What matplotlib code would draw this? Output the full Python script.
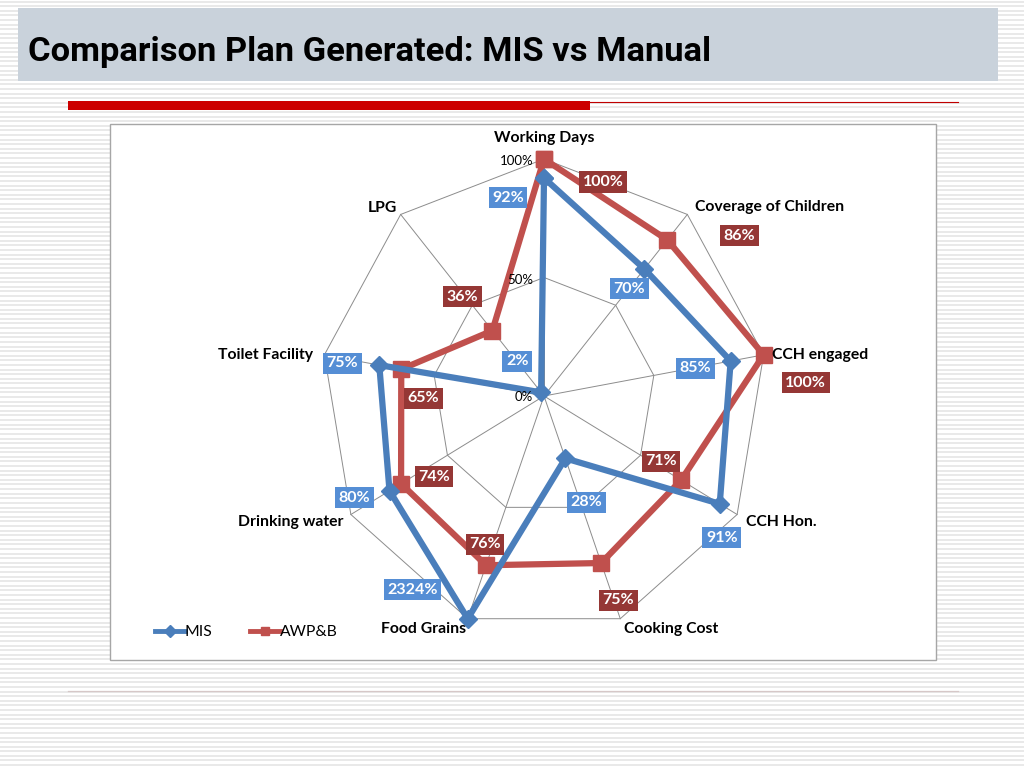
import numpy as np
import matplotlib.pyplot as plt
from matplotlib.patches import Rectangle
from matplotlib.lines import Line2D
from matplotlib.collections import LineCollection

categories = ['Working Days', 'Coverage of Children', 'CCH engaged', 'CCH Hon.',
              'Cooking Cost', 'Food Grains', 'Drinking water', 'Toilet Facility', 'LPG']
mis = [92, 70, 85, 91, 28, 2324, 80, 75, 2]
awpb = [100, 86, 100, 71, 75, 76, 74, 65, 36]
ticks = [0, 50, 100]

W, H = 1024, 768
fig = plt.figure(figsize=(W / 100, H / 100), dpi=100)
fig.patch.set_facecolor('white')


def fx(x):
    return x / W


def fy(y):
    return 1 - y / H


def rect(x0, y0, x1, y1, **kw):
    fig.add_artist(Rectangle((fx(x0), fy(y1)), fx(x1 - x0), (y1 - y0) / H,
                             transform=fig.transFigure, **kw))


# slide background stripes
ys = np.arange(1.5, H, 4.6)
segs = [[(0, fy(y)), (1, fy(y))] for y in ys]
fig.add_artist(LineCollection(segs, colors='#e3e3e3', linewidths=1.1,
                              transform=fig.transFigure, zorder=0))

# title box
rect(18, 8, 998, 81, facecolor='#c9d2db', edgecolor='none', zorder=1)
fig.text(fx(28), fy(52), 'Comparison Plan Generated: MIS vs Manual',
         fontsize=24.8, fontweight='bold', family=['Roboto', 'DejaVu Sans'],
         ha='left', va='center', color='black', zorder=2)

# red bar and lines
rect(68, 101, 590, 110, facecolor='#cc0000', edgecolor='none', zorder=1)
fig.add_artist(Line2D([fx(590), fx(958)], [fy(102), fy(102)], color='#c00000',
                      linewidth=0.8, transform=fig.transFigure, zorder=1))
fig.add_artist(Line2D([fx(68), fx(958)], [fy(691), fy(691)], color='#d6c8c8',
                      linewidth=0.9, transform=fig.transFigure, zorder=1))

# chart area
rect(110, 124, 936, 660, facecolor='white', edgecolor='#a6a6a6', linewidth=1.0, zorder=1)

# radar axes
cx, cy, rh, rv = 544, 396, 223, 237
ax = fig.add_axes([fx(cx - rh), fy(cy + rv), 2 * rh / W, 2 * rv / H], projection='polar')
ax.set_zorder(3)
ax.set_theta_offset(np.pi / 2)
ax.set_theta_direction(-1)
ax.set_ylim(0, 100)
ax.set_aspect('auto')
ax.axis('off')

n = len(categories)
theta = np.arange(n) * 2 * np.pi / n
theta_c = np.append(theta, theta[0])

for t in ticks[1:]:
    ax.plot(theta_c, [t] * (n + 1), color='#8c8c8c', linewidth=0.7, clip_on=False, zorder=1)
for th in theta:
    ax.plot([th, th], [0, 100], color='#8c8c8c', linewidth=0.7, clip_on=False, zorder=1)

mis_plot = np.minimum(mis, 100)
awpb_plot = np.minimum(awpb, 100)
l1, = ax.plot(theta_c, np.append(mis_plot, mis_plot[0]), color='#4a7ebb', linewidth=4.5,
              marker='D', markersize=9, clip_on=False, zorder=4, label='MIS')
l2, = ax.plot(theta_c, np.append(awpb_plot, awpb_plot[0]), color='#c0504d', linewidth=4.5,
              marker='s', markersize=11, clip_on=False, zorder=3, label='AWP&B')

lab_font = ['Lato', 'DejaVu Sans']

# tick labels
for t, off in zip(ticks, [(-11, -1), (-11, -2), (-11, -2)]):
    ax.annotate(f'{t}%', (0, t), xytext=off, textcoords='offset pixels', ha='right',
                va='center', fontsize=9.5, family=lab_font, color='black', zorder=6,
                annotation_clip=False)

# category labels: (dx, dy) in pixels, ha
cat_pos = [((0, 21), 'center'), ((8, 7), 'left'), ((8, 0), 'left'), ((9, -7), 'left'),
           ((4, -10), 'left'), ((-2, -10), 'right'), ((-7, -7), 'right'),
           ((-11, 0), 'right'), ((-4, 6), 'right')]
for th, name, (off, ha) in zip(theta, categories, cat_pos):
    ax.annotate(name, (th, 100), xytext=off, textcoords='offset pixels', ha=ha,
                va='center', fontsize=11.3, fontweight='bold', family=lab_font,
                color='black', zorder=6, annotation_clip=False)

# data labels
mis_off = [(-36, -20), (-15, -20), (-35, -7), (2, -34), (21, -44), (-55, 29),
           (-35, -7), (-37, 2), (-24, 31)]
awpb_off = [(59, -23), (72, 4), (42, -28), (-20, 19), (17, -37), (-1, 21),
            (33, 7), (22, -29), (-30, 34)]
for vals, plotv, offs, col in [(mis, mis_plot, mis_off, '#558ed5'),
                               (awpb, awpb_plot, awpb_off, '#953735')]:
    for th, v, pv, off in zip(theta, vals, plotv, offs):
        ax.annotate(f'{v}%', (th, pv), xytext=off, textcoords='offset pixels',
                    ha='center', va='center', fontsize=11.5, fontweight='bold',
                    family=lab_font, color='white', zorder=7, annotation_clip=False,
                    bbox=dict(boxstyle='square,pad=0.22', facecolor=col, edgecolor='none'))

leg = fig.legend(handles=[l1, l2], loc='center left', bbox_to_anchor=(fx(141), fy(632)),
                 ncol=2, frameon=False, numpoints=1, handlelength=1.9, handletextpad=0.0,
                 columnspacing=2.4, prop={'family': lab_font, 'size': 11.3})
for h in leg.legend_handles:
    h.set_markersize(6)
    h.set_linewidth(3.5)

fig.savefig('out.png', dpi=100)
